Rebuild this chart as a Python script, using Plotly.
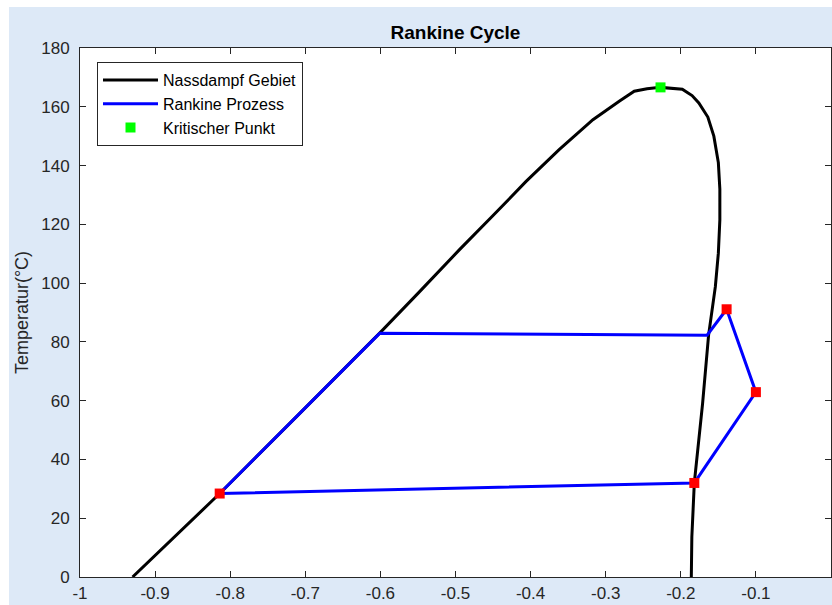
import plotly.graph_objects as go

# Nassdampf-Gebiet (saturation dome): entropy-like coordinate vs temperature
dome_s = [-0.930, -0.870, -0.814, -0.710, -0.601, -0.550, -0.495, -0.450,
          -0.406, -0.362, -0.317, -0.282, -0.262, -0.245, -0.227, -0.198,
          -0.185, -0.176, -0.164, -0.156, -0.150, -0.148, -0.148, -0.150,
          -0.154, -0.163, -0.171, -0.182, -0.1853, -0.186]
dome_T = [0.0, 14.7, 28.4, 55.0, 83.0, 96.5, 111.3, 123.0,
          134.6, 145.4, 155.6, 161.9, 165.3, 166.1, 166.6, 166.0,
          163.8, 161.3, 156.5, 150.0, 141.0, 132.0, 121.5, 110.2,
          98.8, 82.3, 59.0, 32.0, 13.6, 0.0]

# Rankine process path (closed loop)
rk_s = [-0.814, -0.601, -0.165, -0.139, -0.100, -0.182, -0.814]
rk_T = [28.4, 82.9, 82.3, 91.1, 62.9, 32.0, 28.4]

# process state points
state_s = [-0.814, -0.139, -0.100, -0.182]
state_T = [28.4, 91.1, 62.9, 32.0]

# critical point
crit_s = [-0.227]
crit_T = [166.6]

x_ticks = [-1, -0.9, -0.8, -0.7, -0.6, -0.5, -0.4, -0.3, -0.2, -0.1, 0]
x_ticktext = ["-1", "-0.9", "-0.8", "-0.7", "-0.6", "-0.5", "-0.4", "-0.3", "-0.2", "-0.1", "0"]
y_ticks = [0, 20, 40, 60, 80, 100, 120, 140, 160, 180]

FONT = "Liberation Sans, Arial, Helvetica, sans-serif"
AX = "#262626"
BG = "#dde9f7"

W, H = 832, 605
ML, MR, MT, MB = 80, 1, 48, 28
PW, PH = W - ML - MR, H - MT - MB

fig = go.Figure()
fig.add_trace(go.Scatter(x=dome_s, y=dome_T, mode="lines", name="Nassdampf Gebiet",
                         line=dict(color="black", width=3), legendgroup="a"))
fig.add_trace(go.Scatter(x=rk_s, y=rk_T, mode="lines", name="Rankine Prozess",
                         line=dict(color="#0000ff", width=3), legendgroup="b"))
fig.add_trace(go.Scatter(x=state_s, y=state_T, mode="markers", showlegend=False,
                         marker=dict(color="#ff0000", symbol="square", size=10)))
fig.add_trace(go.Scatter(x=crit_s, y=crit_T, mode="markers", name="Kritischer Punkt",
                         marker=dict(color="#00ff00", symbol="square", size=10),
                         legendgroup="c"))

axis_common = dict(showgrid=False, zeroline=False, showline=True, linecolor=AX,
                   linewidth=1, mirror="ticks", ticks="inside", ticklen=6,
                   tickcolor=AX, tickfont=dict(family=FONT, size=17, color=AX))

fig.update_xaxes(range=[-1, 0], tickvals=x_ticks, ticktext=x_ticktext,
                 ticklabelstandoff=1, **axis_common)
fig.update_yaxes(range=[0, 180], tickvals=y_ticks, ticklabelstandoff=6,
                 title=dict(text="Temperatur(°C)", standoff=7,
                            font=dict(family=FONT, size=18, color=AX)),
                 **axis_common)

# white strips along the top and left edges of the figure
shapes = [
    dict(type="rect", xref="paper", yref="paper",
         x0=-ML / PW - 0.01, x1=(9 - ML) / PW, y0=-MB / PH - 0.01, y1=(H - MB) / PH + 0.01,
         fillcolor="white", line_width=0, layer="below"),
    dict(type="rect", xref="paper", yref="paper",
         x0=-ML / PW - 0.01, x1=1 + MR / PW + 0.01, y0=(H - MB - 7) / PH, y1=(H - MB) / PH + 0.01,
         fillcolor="white", line_width=0, layer="below"),
]

fig.update_layout(
    width=W, height=H,
    margin=dict(l=ML, r=MR, t=MT, b=MB),
    paper_bgcolor=BG, plot_bgcolor="white",
    font=dict(family=FONT, color=AX),
    title=dict(text="<b>Rankine Cycle</b>", x=(ML + PW / 2) / W, xanchor="center",
               y=1 - 32 / H, yanchor="middle", yref="container",
               font=dict(family=FONT, size=19, color="black")),
    legend=dict(x=(97 - ML) / PW, y=(H - MB - 62) / PH, xanchor="left", yanchor="top",
                bgcolor="white", bordercolor=AX, borderwidth=1,
                font=dict(family=FONT, size=16, color="black"),
                itemwidth=55, tracegroupgap=1, traceorder="normal"),
    shapes=shapes,
    showlegend=True,
)

fig.write_html("out.html")
